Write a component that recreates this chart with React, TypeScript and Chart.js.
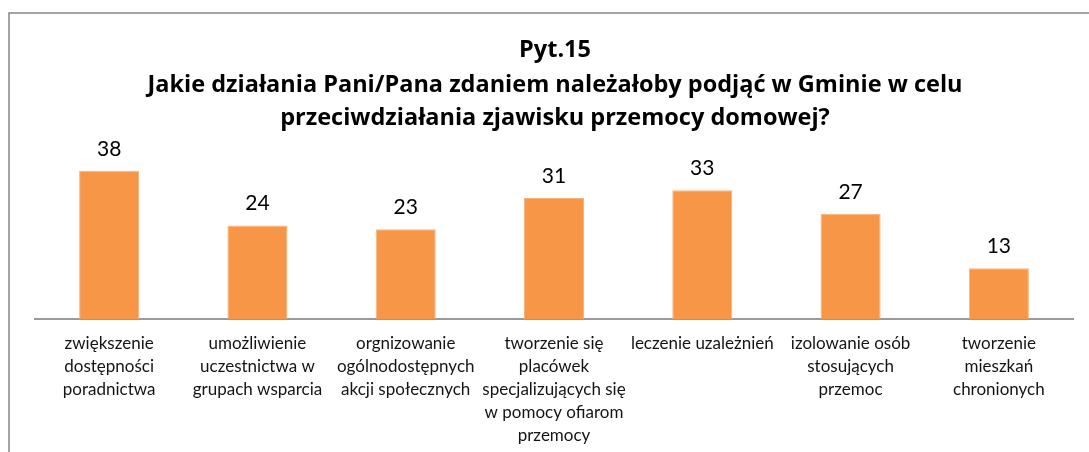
import React, { useEffect, useRef } from "react";
import { Chart, registerables } from "chart.js";

Chart.register(...registerables);

const titleLines = [
  "Pyt.15",
  "Jakie działania Pani/Pana zdaniem należałoby podjąć w Gminie w celu",
  "przeciwdziałania zjawisku przemocy domowej?",
];

const categories: string[][] = [
  ["zwiększenie", "dostępności", "poradnictwa"],
  ["umożliwienie", "uczestnictwa w", "grupach wsparcia"],
  ["orgnizowanie", "ogólnodostępnych", "akcji społecznych"],
  ["tworzenie się", "placówek", "specjalizujących się", "w pomocy ofiarom", "przemocy"],
  ["leczenie uzależnień"],
  ["izolowanie osób", "stosujących", "przemoc"],
  ["tworzenie", "mieszkań", "chronionych"],
];

const values = [38, 24, 23, 31, 33, 27, 13];

const FONT = "Lato, 'Open Sans', sans-serif";
const TITLE_FONT = "'Open Sans', Lato, sans-serif";

const frameAndTitle = {
  id: "frameAndTitle",
  beforeDraw(chart: any) {
    const ctx = chart.ctx;
    ctx.save();
    ctx.fillStyle = "#ffffff";
    ctx.fillRect(0, 0, chart.width, chart.height);
    ctx.strokeStyle = "#878787";
    ctx.lineWidth = 1.5;
    ctx.strokeRect(9, 13, chart.width + 20, chart.height + 20);
    ctx.restore();
  },
  afterDraw(chart: any) {
    const ctx = chart.ctx;
    ctx.save();
    ctx.fillStyle = "#000000";
    ctx.font = `bold 23.5px ${TITLE_FONT}`;
    ctx.textAlign = "center";
    ctx.textBaseline = "alphabetic";
    const baselines = [57, 92, 125];
    titleLines.forEach((t, i) => ctx.fillText(t, 555, baselines[i]));
    ctx.restore();
  },
};

const dataLabels = {
  id: "dataLabels",
  afterDatasetsDraw(chart: any) {
    const ctx = chart.ctx;
    const meta = chart.getDatasetMeta(0);
    ctx.save();
    ctx.fillStyle = "#000000";
    ctx.font = `21px ${FONT}`;
    ctx.textAlign = "center";
    ctx.textBaseline = "alphabetic";
    meta.data.forEach((el: any, i: number) => {
      ctx.fillText(String(values[i]), el.x, el.y - 15);
    });
    ctx.restore();
  },
};

export default function App() {
  const ref = useRef<HTMLCanvasElement | null>(null);
  useEffect(() => {
    if (!ref.current) return;
    const chart = new Chart(ref.current, {
      type: "bar",
      data: {
        labels: categories,
        datasets: [
          {
            data: values,
            backgroundColor: "#F79646",
            borderColor: "#F9B27A",
            borderWidth: { left: 1, right: 1, top: 1, bottom: 0 },
            barPercentage: 0.405,
            categoryPercentage: 1,
          },
        ],
      },
      options: {
        animation: false,
        responsive: false,
        devicePixelRatio: 1,
        layout: { padding: { left: 35, right: 16, top: 163, bottom: 0 } },
        plugins: {
          legend: { display: false },
          title: { display: false },
          tooltip: { enabled: false },
        },
        scales: {
          y: { display: false, min: 0, max: 40 },
          x: {
            grid: { display: false, drawTicks: false },
            border: { display: true, color: "#9a9a9a", width: 2 },
            afterFit: (scale: any) => {
              scale.height = 133;
            },
            ticks: {
              autoSkip: false,
              maxRotation: 0,
              minRotation: 0,
              padding: 13,
              color: "#141414",
              font: { family: FONT, size: 17, lineHeight: 1.35 },
            },
          },
        },
      },
      plugins: [frameAndTitle, dataLabels],
    });
    return () => chart.destroy();
  }, []);
  return (
    <div style={{ position: "fixed", left: 0, top: 0, width: 1089, height: 452, overflow: "hidden", background: "#fff" }}>
      <canvas ref={ref} width={1089} height={452} style={{ display: "block" }} />
    </div>
  );
}
